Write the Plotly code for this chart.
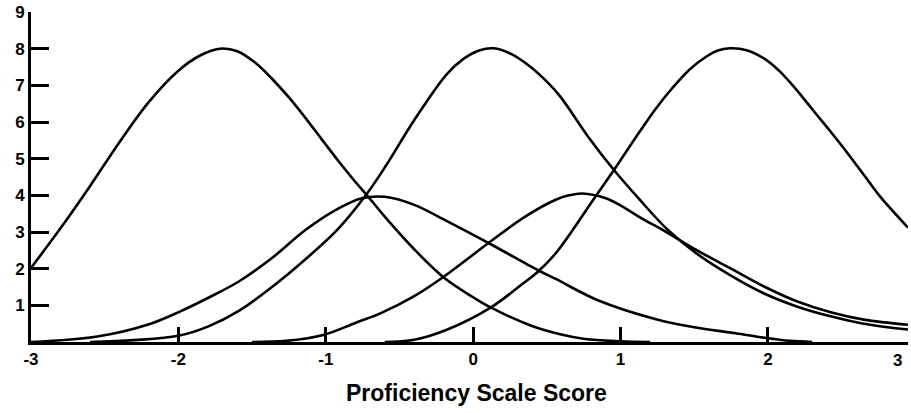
import plotly.graph_objects as go

# ---- data (proficiency scale score vs. information) ----
curve1_x = [-3.0, -2.8, -2.6, -2.4, -2.2, -2.0, -1.85, -1.72, -1.6, -1.48, -1.365,
            -1.25, -1.136, -1.026, -0.913, -0.80, -0.72, -0.60, -0.405, -0.20, 0.0, 0.115,
            0.39, 0.59, 0.76, 1.0, 1.2]
curve1_y = [2.02, 3.1, 4.25, 5.45, 6.55, 7.4, 7.82, 8.0, 7.93, 7.62, 7.18,
            6.67, 6.1, 5.52, 4.93, 4.37, 4.0, 3.42, 2.55, 1.76, 1.22, 0.95,
            0.45, 0.21, 0.08, 0.02, 0.0]

curve2_x = [-2.6, -2.3, -2.0, -1.80, -1.59, -1.365, -1.14, -0.913, -0.72, -0.59, -0.405, -0.18,
            -0.066, 0.04, 0.14, 0.26, 0.39, 0.50, 0.59, 0.78, 0.955, 1.13, 1.31, 1.51, 1.74,
            1.97, 2.195, 2.425, 2.65, 2.95]
curve2_y = [0.0, 0.05, 0.17, 0.42, 0.85, 1.5, 2.25, 3.1, 4.05, 4.82, 6.02, 7.3,
            7.72, 7.95, 8.01, 7.85, 7.5, 7.1, 6.7, 5.6, 4.69, 3.88, 3.1, 2.43, 1.83,
            1.33, 0.97, 0.7, 0.5, 0.34]

curve3_x = [-0.6, -0.40, -0.175, 0.115, 0.34, 0.443, 0.56, 0.83, 0.955, 1.13, 1.24, 1.35,
            1.465, 1.58, 1.66, 1.74, 1.855, 1.97, 2.08, 2.195, 2.31, 2.42, 2.54, 2.65, 2.76, 2.95]
curve3_y = [0.0, 0.06, 0.34, 0.93, 1.6, 1.93, 2.42, 3.97, 4.69, 5.74, 6.37, 6.92,
            7.42, 7.78, 7.95, 8.01, 7.96, 7.74, 7.38, 6.87, 6.3, 5.76, 5.15, 4.56, 3.97, 3.12]

curve4_x = [-3.0, -2.55, -2.21, -1.99, -1.80, -1.59, -1.365, -1.136, -0.91, -0.755, -0.60,
            -0.40, -0.175, 0.104, 0.443, 0.56, 0.85, 1.24, 1.5, 1.78, 1.97, 2.15, 2.3]
curve4_y = [0.0, 0.15, 0.47, 0.83, 1.2, 1.65, 2.29, 3.06, 3.65, 3.92, 3.96,
            3.74, 3.29, 2.70, 1.95, 1.72, 1.13, 0.62, 0.4, 0.24, 0.12, 0.03, 0.0]

curve5_x = [-1.5, -1.27, -1.01, -0.80, -0.63, -0.40, -0.20, 0.104, 0.345, 0.56, 0.65, 0.74,
            0.90, 1.01, 1.14, 1.31, 1.51, 1.74, 1.97, 2.195, 2.425, 2.65, 2.95]
curve5_y = [0.0, 0.03, 0.2, 0.52, 0.78, 1.25, 1.78, 2.70, 3.4, 3.88, 4.0, 4.05,
            3.92, 3.7, 3.38, 3.0, 2.52, 2.02, 1.52, 1.11, 0.81, 0.61, 0.47]

x_tick_vals = [-3, -2, -1, 0, 1, 2]
x_tick_text = ["-3", "-2", "-1", "0", "1", "2"]
x_last_label = "3"
y_tick_vals = [1, 2, 3, 4, 5, 6, 7, 8, 9]
x_title = "Proficiency Scale Score"

curves = [(curve1_x, curve1_y), (curve2_x, curve2_y), (curve3_x, curve3_y),
          (curve4_x, curve4_y), (curve5_x, curve5_y)]

fig = go.Figure()
for cx, cy in curves:
    fig.add_trace(go.Scatter(x=cx, y=cy, mode="lines",
                             line=dict(color="black", width=2.6, shape="spline", smoothing=1.0),
                             hoverinfo="skip", showlegend=False))

tick_font = dict(family="Liberation Sans, Arial, sans-serif", size=17, color="black", weight="bold")

fig.update_layout(
    width=911, height=413,
    margin=dict(l=31, r=3, t=12, b=71),
    paper_bgcolor="white", plot_bgcolor="white",
    showlegend=False,
    xaxis=dict(range=[-3, 2.95], tickvals=x_tick_vals, ticktext=x_tick_text,
               ticks="inside", ticklen=15, tickwidth=2.5, tickcolor="black",
               showline=True, linecolor="black", linewidth=3, automargin=False,
               showgrid=False, zeroline=False, tickfont=tick_font),
    yaxis=dict(range=[0, 9], tickvals=y_tick_vals,
               ticks="inside", ticklen=18, tickwidth=2.5, tickcolor="black",
               showline=True, linecolor="black", linewidth=3, automargin=False,
               showgrid=False, zeroline=False, tickfont=tick_font),
    annotations=[
        dict(text=x_last_label, x=2.88, xref="x", y=0, yref="paper",
             yanchor="top", yshift=-7, showarrow=False, font=tick_font),
        dict(text="<b>" + x_title + "</b>", x=0.02, xref="x", y=0, yref="paper",
             yanchor="middle", yshift=-51, showarrow=False,
             font=dict(family="Liberation Sans, Arial, sans-serif", size=23, color="black")),
    ],
)

fig.write_html("out.html", config={"displayModeBar": False},
               post_script="document.body.style.margin='0';")
